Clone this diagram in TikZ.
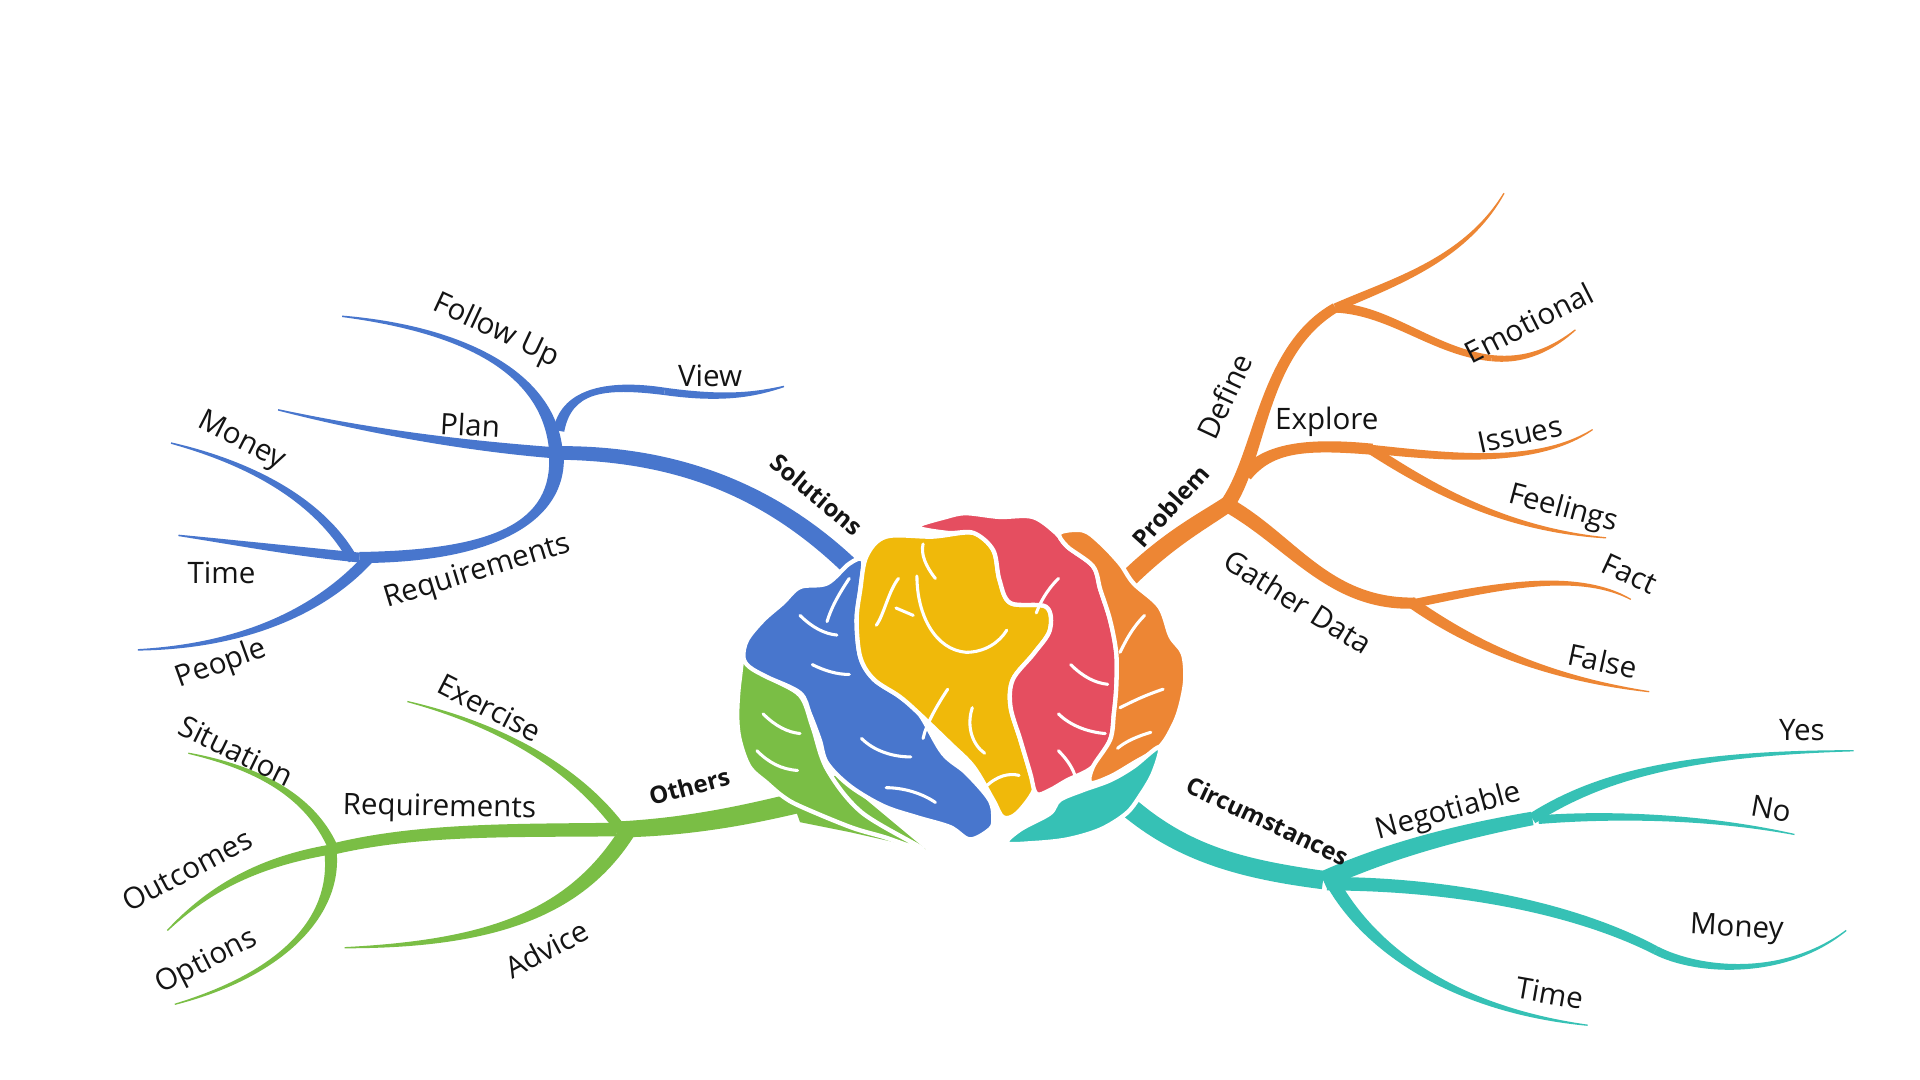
\documentclass[tikz,border=0pt]{standalone}
\usepackage{fontspec}
\setmainfont{Open Sans}
\usetikzlibrary{calc}
\definecolor{mblue}{RGB}{72,118,205}
\definecolor{morange}{RGB}{237,134,52}
\definecolor{mgreen}{RGB}{122,190,69}
\definecolor{mteal}{RGB}{54,193,181}
\definecolor{myellow}{RGB}{240,185,10}
\definecolor{mred}{RGB}{229,78,96}
\definecolor{mtxt}{RGB}{20,20,20}
% tapered branch: colour, P0, P1, P2, P3, half width start, half width end (numbers, in pt)
\newcommand\mmbranch[7]{%
 \fill[#1] let \p0=#2, \p1=#3, \p2=#4, \p3=#5,
  \n1={atan2(\y1-\y0,\x1-\x0)}, \n2={atan2(\y3-\y2,\x3-\x2)}, \n3={(#6+#7)/2} in
  ($(\p0)+(\n1+90:#6pt)$) .. controls ($(\p1)+(\n1+90:#6pt)$) and ($(\p2)+(\n2+90:\n3pt)$) .. ($(\p3)+(\n2+90:#7pt)$)
  -- ($(\p3)+(\n2-90:#7pt)$) .. controls ($(\p2)+(\n2-90:\n3pt)$) and ($(\p1)+(\n1-90:#6pt)$) .. ($(\p0)+(\n1-90:#6pt)$) -- cycle;}
\tikzset{
 lbl/.style={text=mtxt, font=\fontsize{24}{29}\selectfont, inner sep=0pt},
 blbl/.style={text=mtxt, font=\fontsize{19.5}{24}\selectfont\bfseries, inner sep=0pt},
 lobe/.style={draw=white, line width=3.5pt, line join=round},
 vein/.style={draw=white, line width=2.5pt, line cap=round}
}
\begin{document}
\begin{tikzpicture}[x=1pt,y=-1pt]
\fill[white] (0,0) rectangle (1560,877);
\useasboundingbox (0,0) rectangle (1560,877);

% ---------- BLUE : Solutions ----------
\coordinate (bJ) at (452,368);
\coordinate (bJ2) at (292,453);
\mmbranch{mblue}{(708,478)}{(640,405)}{(560,368)}{(bJ)}{7.5}{5.5}
\mmbranch{mblue}{(bJ)}{(400,364)}{(320,355)}{(226,333)}{4.5}{0.6}
\mmbranch{mblue}{(452,372)}{(450,305)}{(380,268)}{(278,257)}{5.5}{0.6}
\mmbranch{mblue}{(454,350)}{(460,318)}{(490,311)}{(540,318)}{4.5}{3}
\mmbranch{mblue}{(540,318)}{(590,325)}{(615,320)}{(637,314)}{3}{0.6}
\mmbranch{mblue}{(bJ)}{(456,425)}{(400,452)}{(bJ2)}{6}{4.5}
\mmbranch{mblue}{(287,455)}{(262,410)}{(210,378)}{(139,360)}{4}{0.6}
\mmbranch{mblue}{(bJ2)}{(240,448)}{(200,442)}{(145,435)}{4}{0.6}
\mmbranch{mblue}{(300,453)}{(262,495)}{(200,525)}{(112,528)}{4.5}{0.6}

% ---------- ORANGE : Problem ----------
\coordinate (oJ) at (997,410);
\coordinate (oT) at (1085,250);
\coordinate (oE) at (1115,365);
\coordinate (oG) at (1150,490);
\mmbranch{morange}{(905,482)}{(945,440)}{(975,425)}{(oJ)}{7.5}{6.5}
\mmbranch{morange}{(oJ)}{(1025,370)}{(1025,285)}{(oT)}{6}{4}
\mmbranch{morange}{(oT)}{(1130,230)}{(1190,212)}{(1222,157)}{3.5}{0.5}
\mmbranch{morange}{(oT)}{(1130,252)}{(1165,286)}{(1212,291)}{4}{2.5}
\mmbranch{morange}{(1212,291)}{(1240,294)}{(1262,283)}{(1280,268)}{2.5}{0.5}
\mmbranch{morange}{(1012,386)}{(1030,364)}{(1060,360)}{(oE)}{5.5}{4.5}
\mmbranch{morange}{(oE)}{(1180,372)}{(1250,378)}{(1294,349)}{3.5}{0.5}
\mmbranch{morange}{(1112,364)}{(1160,395)}{(1220,430)}{(1305,437)}{4}{0.5}
\mmbranch{morange}{(oJ)}{(1050,440)}{(1080,492)}{(oG)}{6}{4.5}
\mmbranch{morange}{(oG)}{(1210,478)}{(1280,462)}{(1325,487)}{3.5}{0.5}
\mmbranch{morange}{(1146,489)}{(1190,520)}{(1250,550)}{(1340,562)}{4.5}{0.5}

% ---------- GREEN : Others ----------
\coordinate (gA) at (501,674);
\coordinate (gB) at (270,690);
\mmbranch{mgreen}{(665,648)}{(610,662)}{(560,672)}{(gA)}{8.5}{6.5}
\mmbranch{mgreen}{(506,676)}{(480,640)}{(430,595)}{(331,570)}{4.5}{0.5}
\mmbranch{mgreen}{(512,672)}{(470,742)}{(400,767)}{(280,770)}{6.5}{0.5}
\mmbranch{mgreen}{(gA)}{(420,675)}{(340,673)}{(gB)}{5.5}{4.5}
\mmbranch{mgreen}{(272,692)}{(255,650)}{(215,625)}{(153,612)}{4}{0.5}
\mmbranch{mgreen}{(gB)}{(210,700)}{(170,722)}{(136,756)}{4}{0.5}
\mmbranch{mgreen}{(268,688)}{(276,740)}{(235,790)}{(142,816)}{5}{0.5}
\fill[mgreen] (640,640) -- (680,630) -- (752,690) -- (690,676) -- (650,668) -- cycle;

% ---------- TEAL : Circumstances ----------
\coordinate (tC) at (1075,715);
\coordinate (tD) at (1245,665);
\mmbranch{mteal}{(900,640)}{(950,690)}{(1000,705)}{(tC)}{8.5}{7.5}
\mmbranch{mteal}{(tC)}{(1130,690)}{(1190,675)}{(tD)}{7}{5.5}
\mmbranch{mteal}{(tD)}{(1300,630)}{(1370,612)}{(1506,610)}{4.5}{0.5}
\mmbranch{mteal}{(1250,666)}{(1300,662)}{(1380,662)}{(1458,678)}{3.5}{0.5}
\mmbranch{mteal}{(1078,718)}{(1180,718)}{(1280,738)}{(1345,772)}{5.5}{3.5}
\mmbranch{mteal}{(1345,772)}{(1380,790)}{(1450,795)}{(1500,756)}{3.5}{0.5}
\mmbranch{mteal}{(1080,712)}{(1110,770)}{(1180,820)}{(1290,833)}{5.5}{0.5}

% ---------- BRAIN ----------
\filldraw[lobe, fill=mgreen] plot[smooth cycle, tension=0.55] coordinates {
 (606,532) (601,552) (599,580) (601,601) (609,623) (623,636) (636,647) (650,655)
 (691,672) (718,680) (750,690) (700,660) (672,625) (660,590) (650,565) (625,550)};
\filldraw[lobe, fill=mblue] plot[smooth cycle, tension=0.55] coordinates {
 (701,455) (690,458) (672,474) (650,477) (636,490) (620,504) (607,520) (604,534)
 (609,542) (623,550) (650,563) (658,580) (666,601) (672,620) (691,639) (718,655)
 (745,664) (772,672) (788,682) (804,674) (807,666) (804,650) (785,628) (766,612)
 (747,580) (731,566) (710,552) (699,534) (696,504) (699,479)};
\filldraw[lobe, fill=myellow] plot[smooth cycle, tension=0.55] coordinates {
 (704,452) (720,436) (758,436) (791,433) (807,447) (812,471) (821,490) (850,493)
 (853,512) (840,531) (823,552) (821,574) (829,601) (837,628) (840,642) (826,661)
 (815,664) (807,650) (791,623) (772,604) (747,580) (731,566) (710,552) (699,534)
 (696,504) (699,479)};
\filldraw[lobe, fill=mred] plot[smooth cycle, tension=0.55] coordinates {
 (745,428) (769,420) (785,417) (812,420) (839,420) (858,433) (867,444) (888,460)
 (894,479) (902,504) (907,531) (907,558) (905,580) (902,601) (888,623) (867,634)
 (853,642) (842,645) (837,628) (829,601) (821,574) (823,552) (840,531) (853,512)
 (850,493) (821,490) (812,471) (807,447) (791,433) (770,433)};
\filldraw[lobe, fill=morange] plot[smooth cycle, tension=0.55] coordinates {
 (861,433) (880,431) (894,441) (910,458) (921,474) (942,493) (951,517) (961,531)
 (963,552) (959,574) (953,590) (942,607) (921,620) (902,631) (886,636) (888,623)
 (902,601) (905,580) (907,558) (907,531) (902,504) (894,479) (888,460) (867,444)};
\filldraw[lobe, fill=mteal] plot[smooth cycle, tension=0.55] coordinates {
 (942,607) (937,628) (926,647) (915,661) (894,674) (867,682) (839,685) (818,685)
 (829,674) (853,661) (861,650) (880,642) (902,634) (921,623)};

% veins
\draw[vein] (745,468) .. controls (745,500) and (760,528) .. (785,530) .. controls (800,530) and (812,522) .. (818,512);
\draw[vein] (742,500) -- (728,494);
\draw[vein] (760,470) .. controls (752,460) and (748,450) .. (750,442);
\draw[vein] (730,470) .. controls (722,480) and (718,500) .. (712,508);
\draw[vein] (770,560) .. controls (760,575) and (752,590) .. (750,600);
\draw[vein] (790,575) .. controls (785,590) and (790,605) .. (800,612);
\draw[vein] (800,640) .. controls (810,630) and (820,628) .. (828,630);
\draw[vein] (860,470) .. controls (850,480) and (845,490) .. (842,498);
\draw[vein] (870,540) .. controls (880,550) and (890,555) .. (900,556);
\draw[vein] (860,580) .. controls (870,590) and (885,595) .. (898,596);
\draw[vein] (860,610) .. controls (868,618) and (872,625) .. (874,632);
\draw[vein] (930,500) .. controls (920,510) and (915,520) .. (910,530);
\draw[vein] (945,560) .. controls (930,565) and (920,570) .. (910,575);
\draw[vein] (935,595) .. controls (925,598) and (915,602) .. (908,608);
\draw[vein] (650,500) .. controls (660,510) and (670,515) .. (680,516);
\draw[vein] (660,540) .. controls (670,545) and (680,548) .. (690,548);
\draw[vein] (700,600) .. controls (710,610) and (725,615) .. (740,615);
\draw[vein] (720,640) .. controls (735,640) and (750,645) .. (760,652);
\draw[vein] (620,580) .. controls (630,590) and (640,595) .. (650,596);
\draw[vein] (615,610) .. controls (625,620) and (635,625) .. (648,626);
\draw[vein] (690,470) .. controls (680,485) and (675,495) .. (672,505);

% ---------- LABELS ----------
\node[blbl, rotate=-40] (solutions) at (664,402) {Solutions};
\node[lbl, rotate=-25] (followup) at (403,269) {Follow Up};
\node[lbl] (view) at (577,305) {View};
\node[lbl, rotate=-3] (plan) at (382,345) {Plan};
\node[lbl, rotate=-27] (bmoney) at (196,359) {Money};
\node[lbl] (btime) at (180,465) {Time};
\node[lbl, rotate=17] (breq) at (388,465) {Requirements};
\node[lbl, rotate=20] (people) at (180,540) {People};

\node[blbl, rotate=48] (problem) at (951,411) {Problem};
\node[lbl, rotate=65] (define) at (995,322) {Define};
\node[lbl] (explore) at (1078,343) {Explore};
\node[lbl, rotate=27] (emotional) at (1242,262) {Emotional};
\node[lbl, rotate=12] (issues) at (1235,353) {Issues};
\node[lbl, rotate=-15] (feelings) at (1270,414) {Feelings};
\node[lbl, rotate=-25] (fact) at (1324,466) {Fact};
\node[lbl, rotate=-12] (false) at (1302,537) {False};
\node[lbl, rotate=-32] (gather) at (1055,489) {Gather Data};

\node[blbl, rotate=15] (others) at (560,639) {Others};
\node[lbl, rotate=-27] (exercise) at (398,575) {Exercise};
\node[lbl, rotate=-1] (greq) at (357,657) {Requirements};
\node[lbl, rotate=-26] (situation) at (192,610) {Situation};
\node[lbl, rotate=28] (outcomes) at (152,707) {Outcomes};
\node[lbl, rotate=27] (options) at (168,782) {Options};
\node[lbl, rotate=28] (advice) at (444,771) {Advice};

\node[blbl, rotate=-25] (circ) at (1030,667) {Circumstances};
\node[lbl, rotate=15] (negotiable) at (1177,660) {Negotiable};
\node[lbl] (yes) at (1464,593) {Yes};
\node[lbl, rotate=-10] (no) at (1439,657) {No};
\node[lbl, rotate=-3] (tmoney) at (1411,755) {Money};
\node[lbl, rotate=-10] (ttime) at (1259,807) {Time};
\end{tikzpicture}
\end{document}
